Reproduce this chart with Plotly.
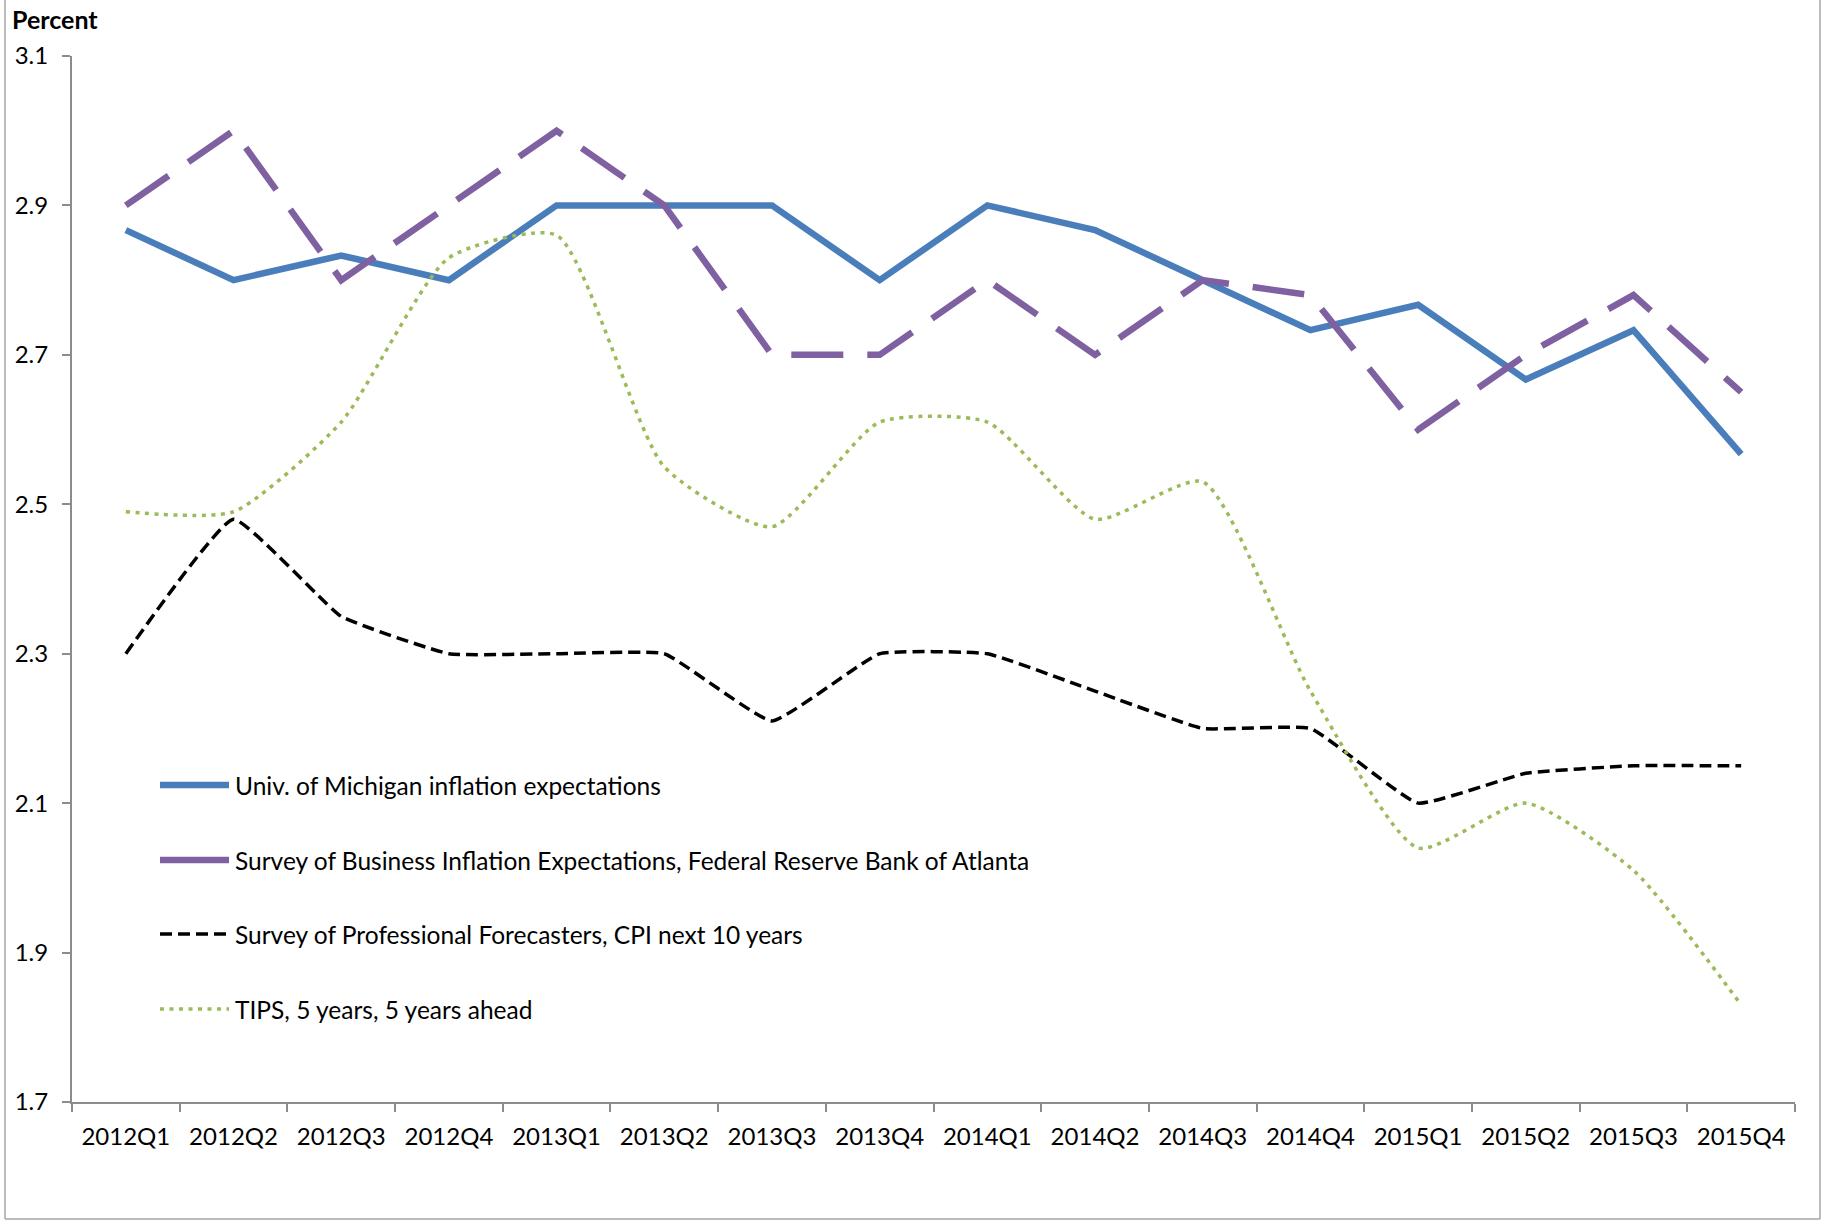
import plotly.graph_objects as go

# Quarterly inflation-expectation measures, percent
quarters = ["2012Q1", "2012Q2", "2012Q3", "2012Q4",
            "2013Q1", "2013Q2", "2013Q3", "2013Q4",
            "2014Q1", "2014Q2", "2014Q3", "2014Q4",
            "2015Q1", "2015Q2", "2015Q3", "2015Q4"]

michigan = [2.867, 2.8, 2.833, 2.8, 2.9, 2.9, 2.9, 2.8,
            2.9, 2.867, 2.8, 2.733, 2.767, 2.667, 2.733, 2.567]
atlanta = [2.9, 3.0, 2.8, 2.9, 3.0, 2.9, 2.7, 2.7,
           2.8, 2.7, 2.8, 2.78, 2.6, 2.7, 2.78, 2.65]
spf = [2.3, 2.48, 2.35, 2.3, 2.3, 2.3, 2.21, 2.3,
       2.3, 2.25, 2.2, 2.2, 2.1, 2.14, 2.15, 2.15]
tips = [2.49, 2.49, 2.61, 2.83, 2.86, 2.55, 2.47, 2.61,
        2.61, 2.48, 2.53, 2.25, 2.04, 2.10, 2.01, 1.83]

series_names = [
    "Univ. of Michigan inflation expectations",
    "Survey of Business Inflation Expectations, Federal Reserve Bank of Atlanta",
    "Survey of Professional Forecasters, CPI next 10 years",
    "TIPS, 5 years, 5 years ahead",
]

y_ticks = [1.7, 1.9, 2.1, 2.3, 2.5, 2.7, 2.9, 3.1]

W, H = 1824, 1221
ML, MR, MT, MB = 72, 29, 56, 119
PW, PH = W - ML - MR, H - MT - MB

FONT = "Lato, 'Open Sans', sans-serif"
AXIS_GRAY = "#8c8c8c"

styles = [
    dict(color="#4a7ebb", width=6.5, dash="solid", shape="linear", smoothing=0),
    dict(color="#7f60a0", width=6.5, dash="52px,24px", shape="linear", smoothing=0),
    dict(color="#000000", width=3.5, dash="12px,6px", shape="spline", smoothing=0.35),
    dict(color="#9bbb59", width=3.5, dash="4px,5.5px", shape="spline", smoothing=0.6),
]


def px_x(px):
    return (px - ML) / PW


def px_y(py):
    return (H - MB - py) / PH


fig = go.Figure()
for name, vals, st in zip(series_names, [michigan, atlanta, spf, tips], styles):
    line = dict(color=st["color"], width=st["width"], dash=st["dash"], shape=st["shape"])
    if st["shape"] == "spline":
        line["smoothing"] = st["smoothing"]
    fig.add_trace(go.Scatter(x=quarters, y=vals, mode="lines", name=name,
                             line=line, showlegend=False, hoverinfo="skip"))

# Hand-built legend: long line samples with labels, stacked inside the plot
shapes = []
annotations = []
legend_rows = [785, 860, 934, 1009]
for name, st, row in zip(series_names, styles, legend_rows):
    shapes.append(dict(type="line", xref="paper", yref="paper",
                       x0=px_x(160), x1=px_x(229), y0=px_y(row), y1=px_y(row),
                       line=dict(color=st["color"], width=st["width"] if st["width"] > 4 else 3.5,
                                 dash="solid" if st["width"] > 4 else st["dash"])))
    annotations.append(dict(text=name, xref="paper", yref="paper",
                            x=px_x(233), y=px_y(row), xanchor="left", yanchor="middle",
                            showarrow=False, font=dict(family=FONT, size=24.5, color="#000")))

# Outer frame around the chart
frame = dict(color="#a6a6a6", width=1.5)
shapes.append(dict(type="line", xref="paper", yref="paper", x0=px_x(5), x1=px_x(5),
                   y0=px_y(-5), y1=px_y(1219), line=frame))
shapes.append(dict(type="line", xref="paper", yref="paper", x0=px_x(1820), x1=px_x(1820),
                   y0=px_y(-5), y1=px_y(1219), line=frame))
shapes.append(dict(type="line", xref="paper", yref="paper", x0=px_x(5), x1=px_x(1820),
                   y0=px_y(1219), y1=px_y(1219), line=frame))

annotations.append(dict(text="<b>Percent</b>", xref="paper", yref="paper",
                        x=px_x(10), y=px_y(19), xanchor="left", yanchor="middle",
                        showarrow=False, font=dict(family=FONT, size=25, color="#000")))

fig.update_layout(
    width=W, height=H,
    margin=dict(l=ML, r=MR, t=MT, b=MB, pad=0),
    paper_bgcolor="white", plot_bgcolor="white",
    font=dict(family=FONT, size=24, color="#000"),
    shapes=shapes, annotations=annotations,
    showlegend=False,
)
fig.update_xaxes(
    type="category", categoryorder="array", categoryarray=quarters,
    range=[-0.5, len(quarters) - 0.5],
    showline=True, linecolor=AXIS_GRAY, linewidth=2,
    ticks="outside", tickson="boundaries", ticklen=8, tickwidth=1.5, tickcolor=AXIS_GRAY,
    ticklabelstandoff=12,
    showgrid=False, zeroline=False,
    tickfont=dict(family=FONT, size=24, color="#000"),
)
fig.update_yaxes(
    range=[1.7, 3.1], tickvals=y_ticks, ticktext=[f"{v:.1f}" for v in y_ticks],
    showline=True, linecolor=AXIS_GRAY, linewidth=2,
    ticks="outside", ticklen=8, tickwidth=1.5, tickcolor=AXIS_GRAY,
    ticklabelstandoff=9,
    showgrid=False, zeroline=False,
    tickfont=dict(family=FONT, size=24, color="#000"),
)

fig.write_html("out.html")
